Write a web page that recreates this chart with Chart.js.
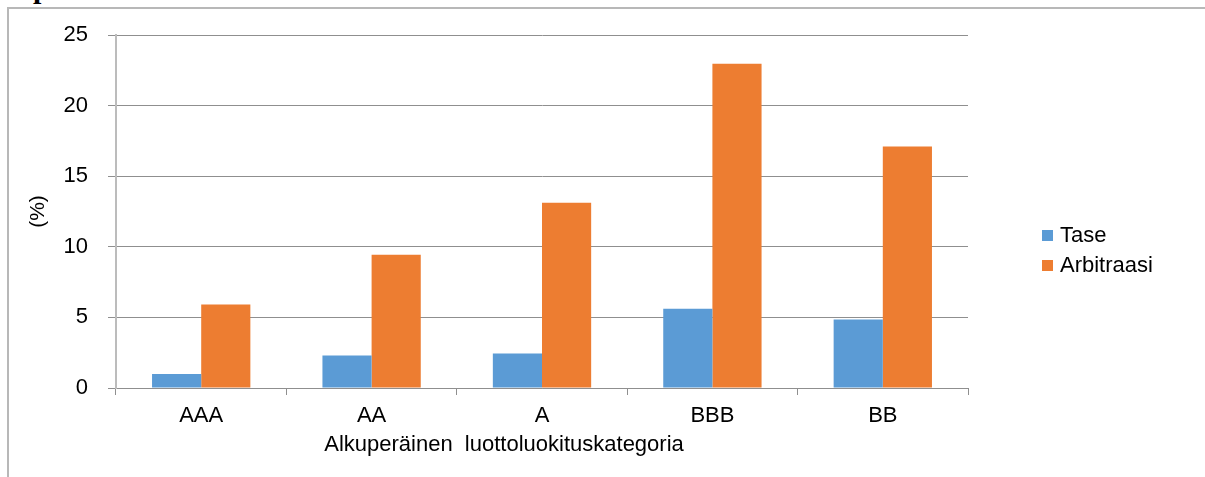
<!DOCTYPE html>
<html>
<head>
<meta charset="utf-8">
<script src="https://cdn.jsdelivr.net/npm/chart.js@4/dist/chart.umd.min.js"></script>
<style>
  html, body { margin: 0; padding: 0; background: #fff; }
  #wrap { position: relative; width: 1205px; height: 477px; overflow: hidden; }
  #frame { position: absolute; left: 7px; top: 7px; width: 1300px; height: 600px;
           border-left: 2px solid #b8b8b8; border-top: 2px solid #b8b8b8; box-sizing: border-box; }
  #cut { position: absolute; left: 18px; top: -27px; font: bold 30px "Liberation Serif", serif;
         line-height: 30px; color: #000; white-space: nowrap; }
  canvas { position: absolute; left: 0; top: 0; }
</style>
</head>
<body>
<div id="wrap">
  <div id="frame"></div>
  <div id="cut">opastamat</div>
  <canvas id="myChart" width="1205" height="477"></canvas>
</div>
<script>
const categories = ['AAA', 'AA', 'A', 'BBB', 'BB'];
const taseValues = [1.0, 2.3, 2.45, 5.62, 4.86];
const arbitraasiValues = [5.92, 9.44, 13.12, 22.97, 17.11];
const yTicks = [0, 5, 10, 15, 20, 25];
const xTitle = 'Alkuperäinen  luottoluokituskategoria';
const yTitle = '(%)';

const font = { family: '"Liberation Sans", Arial, sans-serif', size: 22 };

// legend and x title drawn by hand so they sit where the original has them
const extras = {
  id: 'extras',
  afterDraw(chart) {
    const ctx = chart.ctx;
    ctx.save();
    ctx.font = `${font.size}px ${font.family}`;
    ctx.textBaseline = 'middle';
    ctx.fillStyle = '#000';
    chart.data.datasets.forEach((ds, i) => {
      const y = 235 + i * 30;
      ctx.fillStyle = ds.backgroundColor;
      ctx.fillRect(1042, y - 5, 11, 11);
      ctx.fillStyle = '#000';
      ctx.textAlign = 'left';
      ctx.fillText(ds.label, 1060, y + 1);
    });
    ctx.textAlign = 'center';
    ctx.fillText(xTitle, 504, 445);
    ctx.restore();
  }
};

new Chart(document.getElementById('myChart').getContext('2d'), {
  type: 'bar',
  data: {
    labels: categories,
    datasets: [{
      label: 'Tase',
      data: taseValues,
      backgroundColor: '#5b9bd5',
      categoryPercentage: 0.577,
      barPercentage: 1.0
    }, {
      label: 'Arbitraasi',
      data: arbitraasiValues,
      backgroundColor: '#ed7d31',
      categoryPercentage: 0.577,
      barPercentage: 1.0
    }]
  },
  options: {
    responsive: false,
    animation: false,
    layout: { padding: { top: 35, right: 237, left: 0, bottom: 0 } },
    plugins: { legend: { display: false }, tooltip: { enabled: false } },
    scales: {
      x: {
        afterFit: (scale) => { scale.height = 89; },
        grid: { display: true, drawOnChartArea: false, offset: true, tickLength: 7, color: '#8f8f8f' },
        border: { color: '#8f8f8f' },
        ticks: { color: '#000', font: font, padding: 8 }
      },
      y: {
        min: 0,
        max: 25,
        afterFit: (scale) => { scale.width = 116; },
        afterBuildTicks: (scale) => { scale.ticks = yTicks.map(v => ({ value: v })); },
        grid: { color: '#8f8f8f', tickLength: 8 },
        border: { color: '#bcbcbc', width: 2 },
        ticks: { color: '#000', font: font, padding: 20 },
        title: { display: true, text: yTitle, color: '#000', font: { family: font.family, size: 21 }, padding: { top: 26, bottom: 0 } }
      }
    }
  },
  plugins: [extras]
});
</script>
</body>
</html>
